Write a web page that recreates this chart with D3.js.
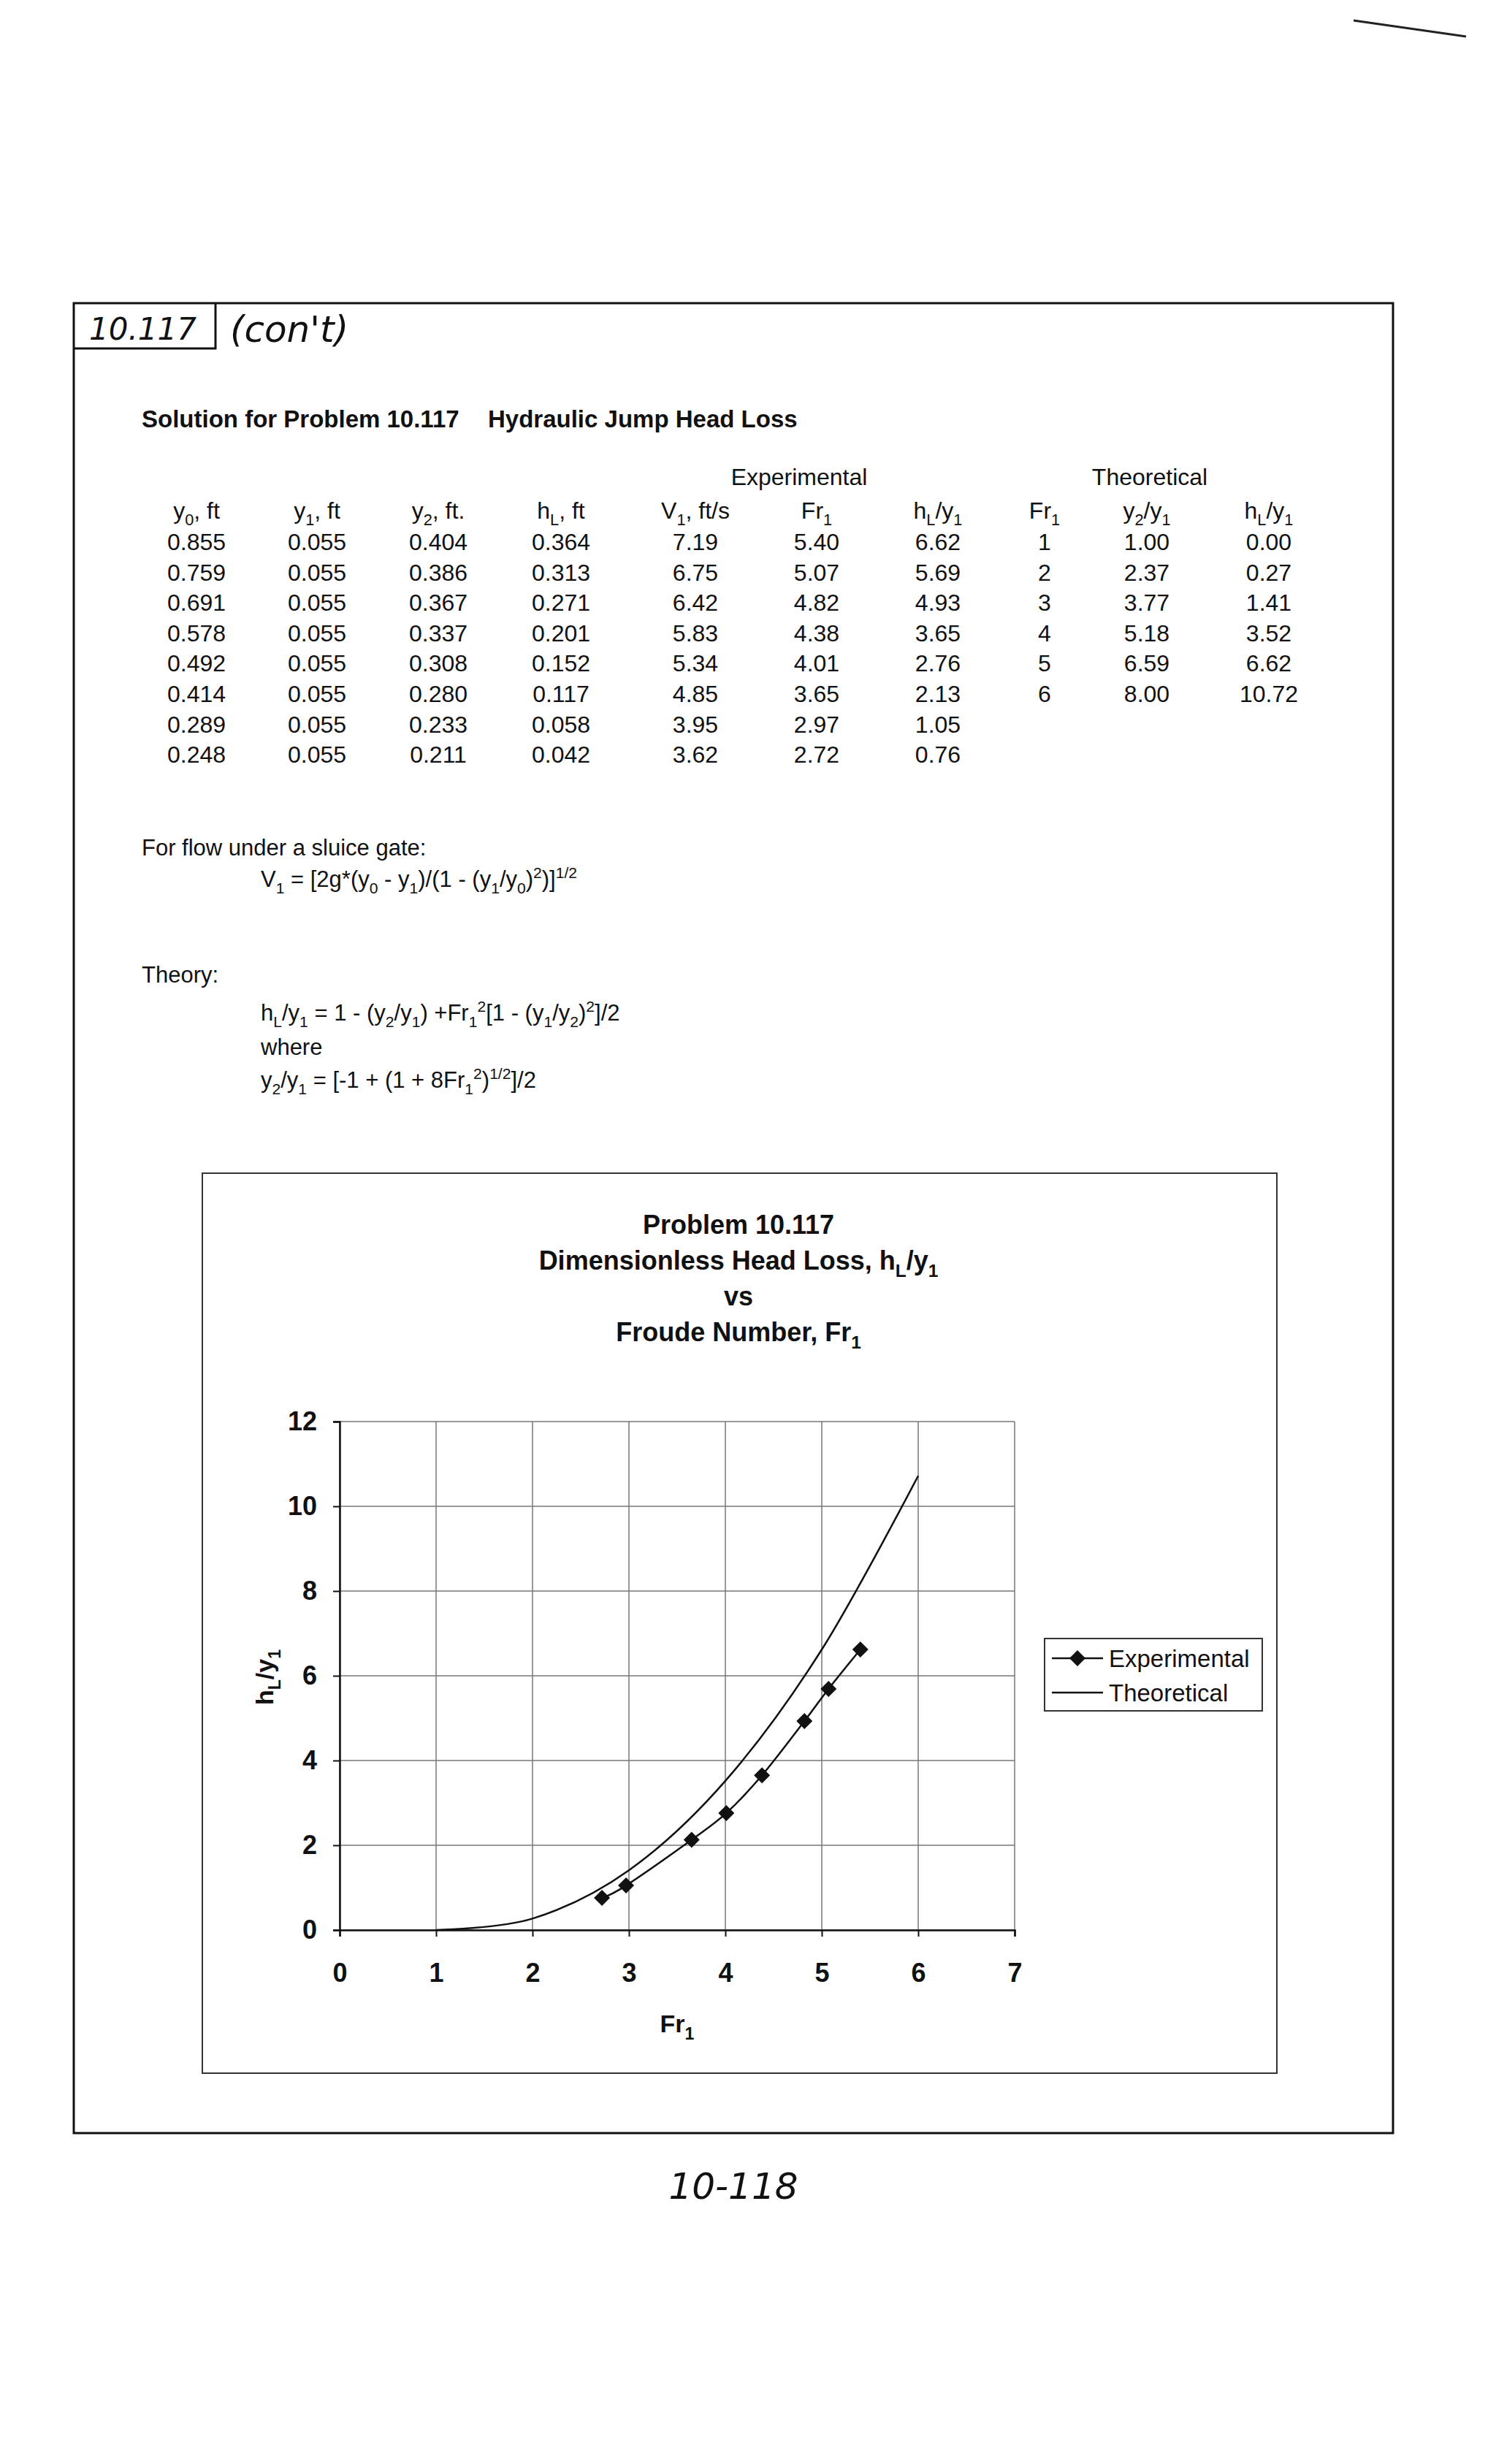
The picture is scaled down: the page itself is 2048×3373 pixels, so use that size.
<!DOCTYPE html>
<html><head><meta charset="utf-8">
<script src="https://cdn.jsdelivr.net/npm/d3@7"></script>
<style>body{margin:0;background:#fff}svg{display:block}</style>
</head><body>
<script>
// ---- data ----
const expY0 = [0.855,0.759,0.691,0.578,0.492,0.414,0.289,0.248];
const expY1 = [0.055,0.055,0.055,0.055,0.055,0.055,0.055,0.055];
const expY2 = [0.404,0.386,0.367,0.337,0.308,0.280,0.233,0.211];
const expHL = [0.364,0.313,0.271,0.201,0.152,0.117,0.058,0.042];
const expV1 = [7.19,6.75,6.42,5.83,5.34,4.85,3.95,3.62];
const expFr = [5.40,5.07,4.82,4.38,4.01,3.65,2.97,2.72];
const expHLy = [6.62,5.69,4.93,3.65,2.76,2.13,1.05,0.76];
const thFr = [1,2,3,4,5,6];
const thY2Y1 = [1.00,2.37,3.77,5.18,6.59,8.00];
const thHLy = [0.00,0.27,1.41,3.52,6.62,10.72];
const xTicks = [0,1,2,3,4,5,6,7];
const yTicks = [0,2,4,6,8,10,12];

const W=2048,H=3373;
const svg=d3.select("body").append("svg").attr("width",W).attr("height",H);
const FONT="'Liberation Sans', Arial, sans-serif";

// rich text helper: _{..} subscript, ^{..} superscript
function rich(sel, str, fs){
  const re=/(_\{[^}]*\}|\^\{[^}]*\})/g;
  const parts=str.split(re).filter(p=>p!=="");
  let shift=0;
  parts.forEach(p=>{
    let size=fs, t=p, target=0;
    if(p.startsWith("_{")){target=fs*0.28;t=p.slice(2,-1);size=fs*0.68;}
    else if(p.startsWith("^{")){target=-fs*0.38;t=p.slice(2,-1);size=fs*0.68;}
    const dy=target-shift; shift=target;
    sel.append("tspan").attr("dy",dy).attr("font-size",size).text(t);
  });
}
function txt(x,y,str,opt={}){
  const t=svg.append("text").attr("x",x).attr("y",y)
    .attr("font-family",opt.family||FONT).attr("font-size",opt.fs||30)
    .attr("font-weight",opt.bold?"bold":"normal")
    .attr("text-anchor",opt.anchor||"start").attr("fill","#111");
  if(opt.italic) t.attr("font-style","italic");
  if(opt.transform) t.attr("transform",opt.transform);
  rich(t,str,opt.fs||30);
  return t;
}

// ---- page frame ----
svg.append("rect").attr("x",101).attr("y",415).attr("width",1806).attr("height",2505)
  .attr("fill","none").attr("stroke","#111").attr("stroke-width",3);
svg.append("path").attr("d","M101,477 H295 V415").attr("fill","none").attr("stroke","#111").attr("stroke-width",3);
txt(122,465,"10.117",{fs:42,italic:true,family:"'DejaVu Sans', sans-serif"});
txt(315,468,"(con't)",{fs:50,italic:true,family:"'DejaVu Sans', sans-serif"});
svg.append("line").attr("x1",1853).attr("y1",28).attr("x2",2007).attr("y2",50).attr("stroke","#222").attr("stroke-width",3);
txt(1004,3010,"10-118",{fs:50,italic:true,anchor:"middle",family:"'DejaVu Sans', sans-serif"});

// ---- heading and table ----
txt(194,585,"Solution for Problem 10.117",{fs:33,bold:true});
txt(668,585,"Hydraulic Jump Head Loss",{fs:33,bold:true});
txt(1094,664,"Experimental",{fs:32,anchor:"middle"});
txt(1574,664,"Theoretical",{fs:32,anchor:"middle"});

const colX=[269,434,600,768,952,1118,1284];
const headers=["y_{0}, ft","y_{1}, ft","y_{2}, ft.","h_{L}, ft","V_{1}, ft/s","Fr_{1}","h_{L}/y_{1}"];
headers.forEach((h,i)=>txt(colX[i],710,h,{fs:32,anchor:"middle"}));
const rowY=d3.range(8).map(i=>753+i*41.6);
const expCols=[expY0.map(v=>v.toFixed(3)),expY1.map(v=>v.toFixed(3)),expY2.map(v=>v.toFixed(3)),
  expHL.map(v=>v.toFixed(3)),expV1.map(v=>v.toFixed(2)),expFr.map(v=>v.toFixed(2)),expHLy.map(v=>v.toFixed(2))];
expCols.forEach((col,i)=>col.forEach((v,j)=>txt(colX[i],rowY[j],v,{fs:32,anchor:"middle"})));
const thX=[1430,1570,1737];
["Fr_{1}","y_{2}/y_{1}","h_{L}/y_{1}"].forEach((h,i)=>txt(thX[i],710,h,{fs:32,anchor:"middle"}));
[thFr.map(String),thY2Y1.map(v=>v.toFixed(2)),thHLy.map(v=>v.toFixed(2))]
  .forEach((col,i)=>col.forEach((v,j)=>txt(thX[i],rowY[j],v,{fs:32,anchor:"middle"})));

// ---- formulas ----
txt(194,1171,"For flow under a sluice gate:",{fs:31});
txt(357,1214,"V_{1} = [2g*(y_{0} - y_{1})/(1 - (y_{1}/y_{0})^{2})]^{1/2}",{fs:31});
txt(194,1345,"Theory:",{fs:31});
txt(357,1397,"h_{L}/y_{1} = 1 - (y_{2}/y_{1}) +Fr_{1}^{2}[1 - (y_{1}/y_{2})^{2}]/2",{fs:31});
txt(357,1444,"where",{fs:31});
txt(357,1489,"y_{2}/y_{1} = [-1 + (1 + 8Fr_{1}^{2})^{1/2}]/2",{fs:31});

// ---- chart ----
svg.append("rect").attr("x",277).attr("y",1606).attr("width",1471).attr("height",1232)
  .attr("fill","none").attr("stroke","#333").attr("stroke-width",2);
txt(1011,1689,"Problem 10.117",{fs:36,bold:true,anchor:"middle"});
txt(1011,1738,"Dimensionless Head Loss, h_{L}/y_{1}",{fs:36,bold:true,anchor:"middle"});
txt(1011,1787,"vs",{fs:36,bold:true,anchor:"middle"});
txt(1011,1836,"Froude Number, Fr_{1}",{fs:36,bold:true,anchor:"middle"});

const x=d3.scaleLinear().domain([0,7]).range([465,1389]);
const y=d3.scaleLinear().domain([0,12]).range([2642,1946]);
const g=svg.append("g");
// grid
g.selectAll(".vg").data(xTicks).join("line").attr("x1",d=>x(d)).attr("x2",d=>x(d))
  .attr("y1",y(0)).attr("y2",y(12)).attr("stroke","#777").attr("stroke-width",1.5);
g.selectAll(".hg").data(yTicks).join("line").attr("x1",x(0)).attr("x2",x(7))
  .attr("y1",d=>y(d)).attr("y2",d=>y(d)).attr("stroke","#777").attr("stroke-width",1.5);
// axes
const xa=svg.append("g").attr("transform",`translate(0,${y(0)})`)
  .call(d3.axisBottom(x).tickValues(xTicks).tickSize(9).tickPadding(36).tickFormat(d3.format("d")));
const ya=svg.append("g").attr("transform",`translate(${x(0)},0)`)
  .call(d3.axisLeft(y).tickValues(yTicks).tickSize(9).tickPadding(22).tickFormat(d3.format("d")));
[xa,ya].forEach(a=>{
  a.select(".domain").attr("stroke","#111").attr("stroke-width",2.5);
  a.selectAll(".tick line").attr("stroke","#111").attr("stroke-width",2);
  a.selectAll("text").attr("font-family",FONT).attr("font-size",36).attr("font-weight","bold").attr("fill","#111");
});
txt(927,2782,"Fr_{1}",{fs:34,bold:true,anchor:"middle"});
txt(0,0,"h_{L}/y_{1}",{fs:34,bold:true,anchor:"middle",transform:"translate(374,2296) rotate(-90)"});

// theoretical curve
const lineSmooth=d3.line().x(d=>x(d[0])).y(d=>y(d[1])).curve(d3.curveCardinal.tension(0));
svg.append("path").datum(thFr.map((f,i)=>[f,thHLy[i]])).attr("d",lineSmooth)
  .attr("fill","none").attr("stroke","#111").attr("stroke-width",2.5);
// experimental
const expPts=expFr.map((f,i)=>[f,expHLy[i]]).sort((a,b)=>a[0]-b[0]);
svg.append("path").datum(expPts).attr("d",lineSmooth)
  .attr("fill","none").attr("stroke","#111").attr("stroke-width",2.5);
const dia="M0,-11L11,0L0,11L-11,0Z";
svg.selectAll(".mk").data(expPts).join("path").attr("d",dia)
  .attr("transform",d=>`translate(${x(d[0])},${y(d[1])})`).attr("fill","#111");

// legend
svg.append("rect").attr("x",1430).attr("y",2243).attr("width",298).attr("height",99)
  .attr("fill","#fff").attr("stroke","#333").attr("stroke-width",2);
svg.append("line").attr("x1",1440).attr("x2",1510).attr("y1",2270).attr("y2",2270).attr("stroke","#111").attr("stroke-width",2.5);
svg.append("path").attr("d",dia).attr("transform","translate(1475,2270)").attr("fill","#111");
svg.append("line").attr("x1",1440).attr("x2",1510).attr("y1",2317).attr("y2",2317).attr("stroke","#111").attr("stroke-width",2.5);
txt(1518,2282,"Experimental",{fs:33});
txt(1518,2329,"Theoretical",{fs:33});
</script>
</body></html>
